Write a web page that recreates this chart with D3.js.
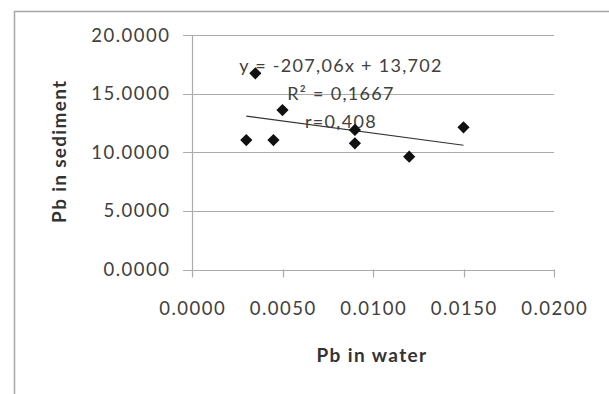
<html>
<head>
<script src="https://d3js.org/d3.v7.min.js"></script>
<style>
body { margin: 0; background: #fff; }
text { font-family: "Lato", "Open Sans", sans-serif; fill: #404040; }
</style>
</head>
<body>
<script>
// Pb in water vs Pb in sediment
const pbWater = [0.0030, 0.0035, 0.0045, 0.0050, 0.0090, 0.0090, 0.0120, 0.0150];
const pbSediment = [11.04, 16.73, 11.04, 13.60, 11.90, 10.76, 9.62, 12.13];
const xTicks = [0, 0.005, 0.01, 0.015, 0.02];
const yTicks = [0, 5, 10, 15, 20];
const trendSlope = -207.06;
const trendIntercept = 13.702;
const trendLabels = ["y = -207,06x + 13,702", "R\u00b2 = 0,1667", "r=0,408"];

let width = 609, height = 394;
let svg = d3.select("body").append("svg")
    .attr("width", width).attr("height", height);

// chart area border
svg.append("rect")
    .attr("x", 14.5).attr("y", 11.5)
    .attr("width", 700).attr("height", 500)
    .attr("fill", "none").attr("stroke", "#a8a8a8").attr("stroke-width", 1.5);

let xScale = d3.scaleLinear().domain([0, 0.02]).range([192, 554]);
let yScale = d3.scaleLinear().domain([0, 20]).range([269.5, 35]);

// gridlines
svg.append("g").selectAll("line")
    .data(yTicks)
    .enter().append("line")
    .attr("x1", xScale(0) - 9).attr("x2", xScale(0.02))
    .attr("y1", d => Math.round(yScale(d)) + 0.5)
    .attr("y2", d => Math.round(yScale(d)) + 0.5)
    .attr("stroke", "#ababab").attr("stroke-width", 1.2);

// y axis line
svg.append("line")
    .attr("x1", xScale(0) + 0.5).attr("x2", xScale(0) + 0.5)
    .attr("y1", yScale(20)).attr("y2", yScale(0) + 8)
    .attr("stroke", "#ababab").attr("stroke-width", 1.2);

// x ticks
svg.append("g").selectAll("line")
    .data(xTicks.slice(1))
    .enter().append("line")
    .attr("x1", d => Math.round(xScale(d)) + 0.5)
    .attr("x2", d => Math.round(xScale(d)) + 0.5)
    .attr("y1", yScale(0)).attr("y2", yScale(0) + 8)
    .attr("stroke", "#ababab").attr("stroke-width", 1.2);

// y tick labels
svg.append("g").selectAll("text")
    .data(yTicks)
    .enter().append("text")
    .attr("x", 170.5)
    .attr("y", d => yScale(d) + 6.5)
    .attr("text-anchor", "end")
    .attr("font-size", "18.5px")
    .attr("letter-spacing", "1.5px")
    .text(d => d3.format(".4f")(d));

// x tick labels
svg.append("g").selectAll("text")
    .data(xTicks)
    .enter().append("text")
    .attr("x", d => xScale(d) + 0.75)
    .attr("y", 315)
    .attr("text-anchor", "middle")
    .attr("font-size", "18.5px")
    .attr("letter-spacing", "1.5px")
    .text(d => d3.format(".4f")(d));

// axis titles
svg.append("text")
    .attr("x", 372).attr("y", 362)
    .attr("text-anchor", "middle")
    .attr("font-size", "19px").attr("font-weight", "bold")
    .attr("letter-spacing", "1.4px")
    .style("fill", "#333")
    .text("Pb in water");
svg.append("text")
    .attr("transform", "translate(66," + (yScale(10) - 1) + ") rotate(-90)")
    .attr("text-anchor", "middle")
    .attr("font-size", "19px").attr("font-weight", "bold")
    .attr("letter-spacing", "1.3px")
    .style("fill", "#333")
    .text("Pb in sediment");

// trend line
let xExt = d3.extent(pbWater);
svg.append("line")
    .attr("x1", xScale(xExt[0])).attr("y1", yScale(trendSlope * xExt[0] + trendIntercept))
    .attr("x2", xScale(xExt[1])).attr("y2", yScale(trendSlope * xExt[1] + trendIntercept))
    .attr("stroke", "#333").attr("stroke-width", 1.2);

// trend labels
svg.append("g").selectAll("text")
    .data(trendLabels)
    .enter().append("text")
    .attr("x", 341)
    .attr("y", (d, i) => 72 + i * 28)
    .attr("text-anchor", "middle")
    .attr("font-size", "18px")
    .attr("letter-spacing", "1.3px")
    .text(d => d);

// markers
let diamond = d3.symbol().type(d3.symbolDiamond2).size(95);
svg.append("g").selectAll("path")
    .data(pbWater)
    .enter().append("path")
    .attr("d", diamond)
    .attr("transform", (d, i) => "translate(" + xScale(d) + "," + yScale(pbSediment[i]) + ")")
    .attr("fill", "#111");
</script>
</body>
</html>
